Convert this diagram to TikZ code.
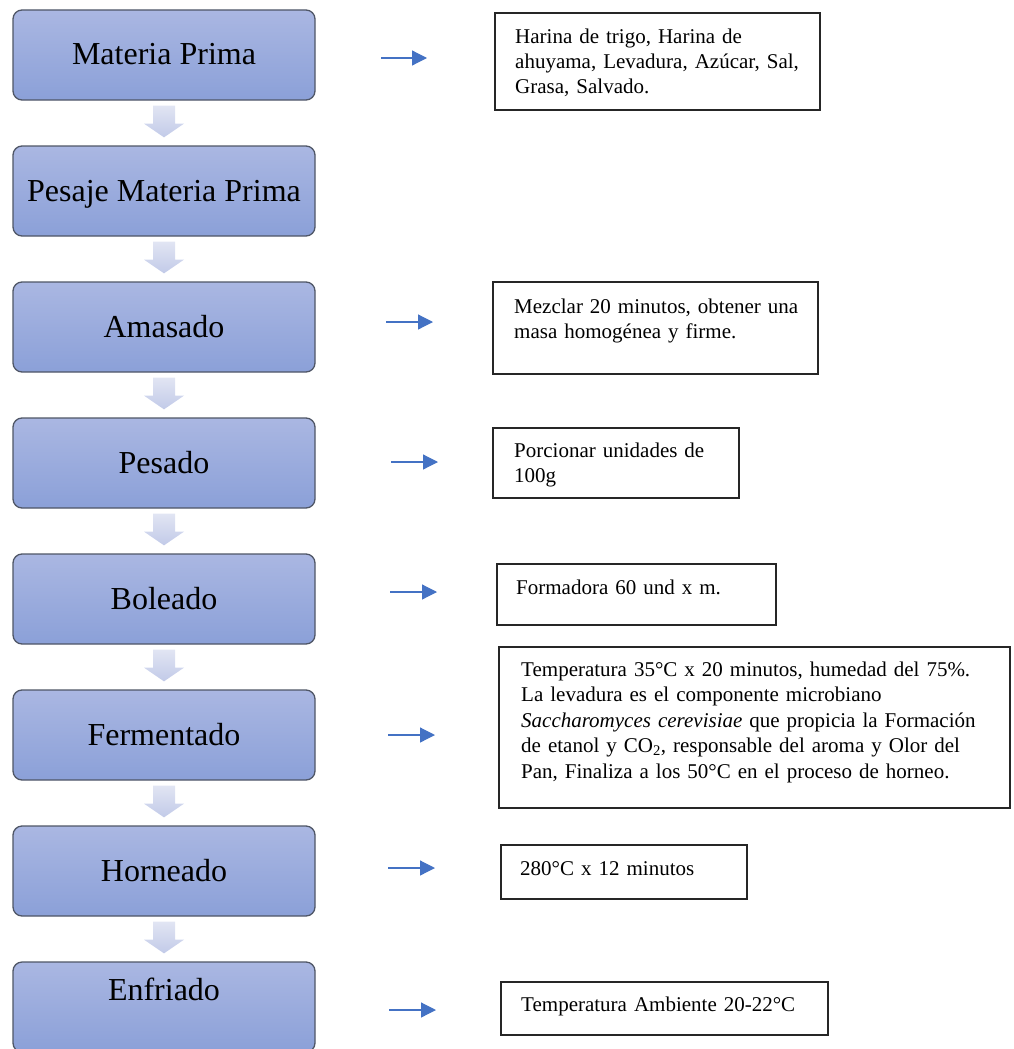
\documentclass[tikz,border=0pt]{standalone}
\usepackage{fontspec}
\setmainfont{Liberation Serif}
\usetikzlibrary{arrows.meta,calc}
\definecolor{boxtop}{HTML}{AAB7E2}
\definecolor{boxbot}{HTML}{8BA0D8}
\definecolor{boxline}{HTML}{4F5666}
\definecolor{arrtop}{HTML}{E1E5F3}
\definecolor{arrbot}{HTML}{C2CAE8}
\definecolor{smallblue}{HTML}{4472C4}
\definecolor{sideline}{HTML}{262626}
\begin{document}
\begin{tikzpicture}[x=1pt,y=-1pt,
  stepbox/.style={draw=boxline, line width=1.3pt, rounded corners=9pt,
    top color=boxtop, bottom color=boxbot, minimum width=302pt,
    minimum height=90pt, inner sep=0pt,
    font=\fontsize{32}{38}\selectfont, text height=27pt, text depth=7pt},
  blockarr/.style={top color=arrtop, bottom color=arrbot, draw=none},
  smallarr/.style={draw=smallblue, line width=1.2pt,
    -{Triangle[length=15pt,width=15pt]}},
  sidebox/.style={draw=sideline, line width=1.2pt, inner sep=0pt,
    outer sep=0pt, anchor=north west},
  sidetext/.style={inner sep=0pt, anchor=base west, align=left,
    text width=490pt, font=\fontsize{21}{25}\selectfont}
]
\useasboundingbox (0,0) rectangle (1013,1049);
\clip (0,0) rectangle (1013,1049);

% main process boxes
\node[stepbox] (m1) at (164,55) {Materia Prima};
\node[stepbox] (m2) at (164,191) {Pesaje Materia Prima};
\node[stepbox] (m3) at (164,327) {Amasado};
\node[stepbox] (m4) at (164,463) {Pesado};
\node[stepbox] (m5) at (164,599) {Boleado};
\node[stepbox] (m6) at (164,735) {Fermentado};
\node[stepbox] (m7) at (164,871) {Horneado};
\node[stepbox, text depth=41pt] (m8) at (164,1007) {Enfriado};

% block arrows between boxes
\foreach \a/\b in {m1/m2,m2/m3,m3/m4,m4/m5,m5/m6,m6/m7,m7/m8}{
  \path[blockarr] ($(\a.south)+(-11,5)$) -- ($(\a.south)+(11,5)$)
    -- ($(\a.south)+(11,23)$) -- ($(\a.south)+(20,23)$)
    -- ($(\b.north)+(0,-8)$) -- ($(\a.south)+(-20,23)$)
    -- ($(\a.south)+(-11,23)$) -- cycle;
}

% small blue arrows
\coordinate (p1s) at (381,58);   \coordinate (p1e) at (427,58);
\coordinate (p3s) at (386,322);  \coordinate (p3e) at (433,322);
\coordinate (p4s) at (391,462);  \coordinate (p4e) at (438,462);
\coordinate (p5s) at (390,592);  \coordinate (p5e) at (437,592);
\coordinate (p6s) at (388,735);  \coordinate (p6e) at (435,735);
\coordinate (p7s) at (388,868);  \coordinate (p7e) at (435,868);
\coordinate (p8s) at (389,1010); \coordinate (p8e) at (436,1010);
\foreach \i in {1,3,4,5,6,7,8}{
  \draw[smallarr] (p\i s) -- (p\i e);
}

% side description boxes
\node[sidebox, minimum width=325pt, minimum height=97pt] (s1) at (495,13) {};
\node[sidetext] (t1) at (515,44) {Harina de trigo, Harina de\\ahuyama, Levadura, Azúcar, Sal,\\Grasa, Salvado.};

\node[sidebox, minimum width=325pt, minimum height=92pt] (s3) at (493,282) {};
\node[sidetext] (t3) at (514,313) {Mezclar 20 minutos, obtener una\\masa homogénea y firme.};

\node[sidebox, minimum width=246pt, minimum height=70pt] (s4) at (493,428) {};
\node[sidetext] (t4) at (514,457) {Porcionar unidades de\\100g};

\node[sidebox, minimum width=279pt, minimum height=61pt] (s5) at (497,564) {};
\node[sidetext] (t5) at (516,594) {Formadora 60 und x m.};

\node[sidebox, minimum width=511pt, minimum height=161pt] (s6) at (499,647) {};
\node[sidetext, font=\fontsize{21}{25.5}\selectfont] (t6) at (521,676) {Temperatura 35°C x 20 minutos, humedad del 75\%.\\La levadura es el componente microbiano\\\textit{Saccharomyces cerevisiae} que propicia la Formación\\de etanol y CO\textsubscript{2}, responsable del aroma y Olor del\\Pan, Finaliza a los 50°C en el proceso de horneo.};

\node[sidebox, minimum width=246pt, minimum height=54pt] (s7) at (501,845) {};
\node[sidetext] (t7) at (520,875) {280°C x 12 minutos};

\node[sidebox, minimum width=327pt, minimum height=53pt] (s8) at (501,982) {};
\node[sidetext] (t8) at (521,1011) {Temperatura Ambiente 20-22°C};
\end{tikzpicture}
\end{document}
